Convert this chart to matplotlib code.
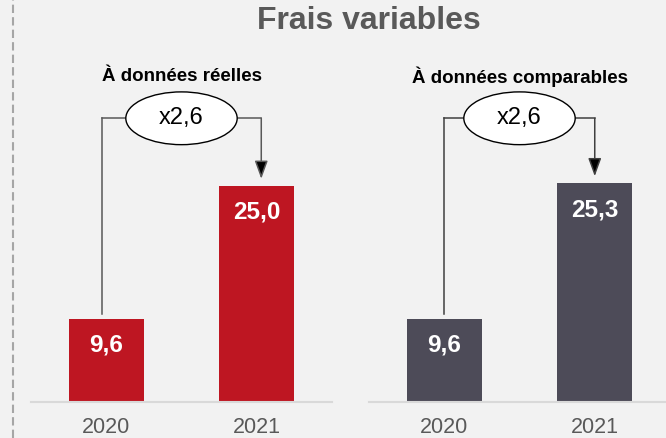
import matplotlib.pyplot as plt
from matplotlib.patches import Ellipse
from matplotlib.lines import Line2D

plt.rcParams["font.family"] = ["Liberation Sans", "DejaVu Sans"]

# données
years = ["2020", "2021"]
reelles = [9.6, 25.0]
comparables = [9.6, 25.3]
labels_reelles = ["9,6", "25,0"]
labels_comparables = ["9,6", "25,3"]
ratio_reelles = "x2,6"
ratio_comparables = "x2,6"

BG = "#f2f2f2"
RED = "#be1622"
DARK = "#4d4b58"

fig = plt.figure(figsize=(6.66, 4.38), dpi=100, facecolor=BG)

# ligne pointillée à gauche
fig.add_artist(Line2D([13 / 666, 13 / 666], [0, 1], transform=fig.transFigure,
                      color="#a6a6a6", lw=1.5, linestyle=(0, (4, 2))))

fig.text(369 / 666, 1 - 21 / 438, "Frais variables", ha="center", va="center",
         fontsize=23, fontweight="bold", color="#595959")


def panel(left, values, labels, ratio, color, subtitle, line_color, xo):
    ax = fig.add_axes([left, 36 / 438, 301 / 666, 346 / 438])
    ax.set_facecolor(BG)
    ax.patch.set_alpha(0)
    x = range(len(values))
    ax.bar(x, values, width=0.5, color=color, zorder=2)
    ax.set_xlim(-0.5, 1.5)
    ax.set_ylim(0, 40)
    for s in ["top", "right", "left"]:
        ax.spines[s].set_visible(False)
    ax.spines["bottom"].set_color("#d9d9d9")
    ax.spines["bottom"].set_linewidth(1.5)
    ax.set_yticks([])
    ax.set_xticks(list(x))
    ax.set_xticklabels(years, fontsize=15.5, color="#595959")
    ax.tick_params(axis="x", length=0, pad=11)

    for i, (v, lab) in enumerate(zip(values, labels)):
        ax.annotate(lab, (i, v), xytext=(0, -19), textcoords="offset points",
                    ha="center", va="center", color="white",
                    fontsize=17.5, fontweight="bold")

    # accolade avec ellipse
    y_top = 32.8
    x0, x1 = 0 - xo, 1 + xo
    ax.plot([x0, x0], [values[0] + 0.6, y_top], color=line_color, lw=1.1)
    ax.plot([x0, x1], [y_top, y_top], color=line_color, lw=1.1)
    ax.annotate("", xy=(x1, values[1] + 0.8), xytext=(x1, y_top),
                arrowprops=dict(arrowstyle="-|>,head_length=1.1,head_width=0.4",
                                color=line_color, lw=1.1, shrinkA=0, shrinkB=0,
                                fc="black", ec=line_color))
    ax.add_patch(Ellipse((0.5, y_top), 0.74, 6.1, facecolor="white",
                         edgecolor="black", lw=1, zorder=3))
    ax.text(0.5, y_top, ratio, ha="center", va="center", fontsize=17,
            color="black", zorder=4)
    ax.text(0.5, 37.6, subtitle, ha="center", va="center", fontsize=13.5,
            fontweight="bold", color="black")
    return ax


panel(31 / 666, reelles, labels_reelles, ratio_reelles, RED,
      "À données réelles", "#595959", 0.03)
panel(369 / 666, comparables, labels_comparables, ratio_comparables, DARK,
      "À données comparables", "#404040", 0.0)

fig.savefig("out.png", dpi=100, facecolor=BG)
